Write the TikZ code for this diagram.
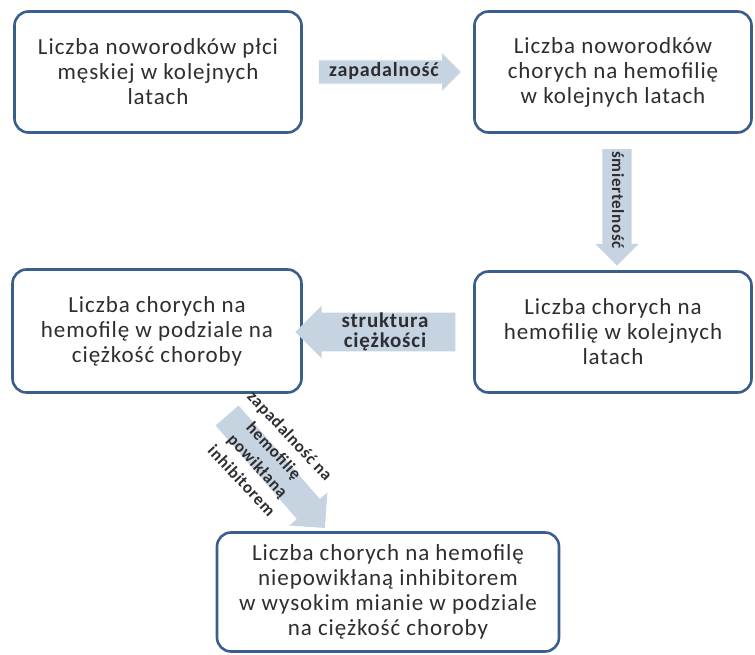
\documentclass[tikz,border=0pt]{standalone}
\usepackage{fontspec}
\setmainfont{Carlito}[LetterSpace=4]
\usepackage{xcolor}
\usepackage{tikz}
\definecolor{boxcolor}{RGB}{58, 94, 140}
\definecolor{flowcolor}{RGB}{198, 211, 225}
\definecolor{inkcolor}{RGB}{45, 45, 50}
\usetikzlibrary{shapes.arrows, positioning, calc}

\begin{document}
\begin{tikzpicture}[
    x=1pt, y=-1pt,
    box/.style={rectangle, draw=boxcolor, line width=2.6pt, rounded corners=14pt, fill=white, align=center, text=inkcolor, font=\fontsize{23}{25}\selectfont, minimum width=287pt, minimum height=121pt},
    flow/.style={single arrow, draw=none, fill=flowcolor, align=center, text=inkcolor, font=\bfseries\fontsize{20}{20}\selectfont, text height=15pt, text depth=5pt, inner xsep=2pt, inner ysep=1.5pt, single arrow head extend=7pt, single arrow tip angle=90}
]
    \useasboundingbox (0,0) rectangle (755,655);

    % Top row
    \node[box] (births) at (158, 72) {Liczba noworodków płci\\męskiej w kolejnych\\latach};
    \node[box, minimum width=277pt] (cases) at (613, 72) {Liczba noworodków\\chorych na hemofilię\\w kolejnych latach};

    % Middle row
    \node[box, minimum width=277pt] (alive) at (613, 332) {Liczba chorych na\\hemofilię w kolejnych\\latach};
    \node[box, minimum width=289pt, minimum height=123pt] (severity) at (157, 331) {Liczba chorych na\\hemofilę w podziale na\\ciężkość choroby};

    % Bottom
    \node[box, minimum width=342pt, minimum height=119pt] (noinhib) at (388, 592) {Liczba chorych na hemofilę\\niepowikłaną inhibitorem\\w wysokim mianie w podziale\\na ciężkość choroby};

    % Flow arrows
    \node[flow, minimum height=142pt] (incid) at (384, 72) {zapadalność};
    \node[flow, rotate=-90, font=\bfseries\fontsize{17}{20}\selectfont, inner ysep=4.5pt, minimum height=114pt] (mort) at (617, 200) {śmiertelność};
    \node[flow, shape border rotate=180, font=\bfseries\fontsize{21}{20}\selectfont, text height=, text depth=, inner ysep=0pt, minimum height=160pt] (struct) at (385, 332) {struktura\\ciężkości};
    \node[flow, rotate=-49, text height=0pt, text depth=0pt, inner ysep=15pt, single arrow head extend=10pt, minimum height=149pt] (inhib) at (271, 466) {};
    \node[rotate=-47, align=center, text=inkcolor, font=\bfseries\fontsize{17}{22}\selectfont] (inhiblabel) at (266, 458) {zapadalność na\\hemofilię\\powikłaną\\inhibitorem};
\end{tikzpicture}
\end{document}
